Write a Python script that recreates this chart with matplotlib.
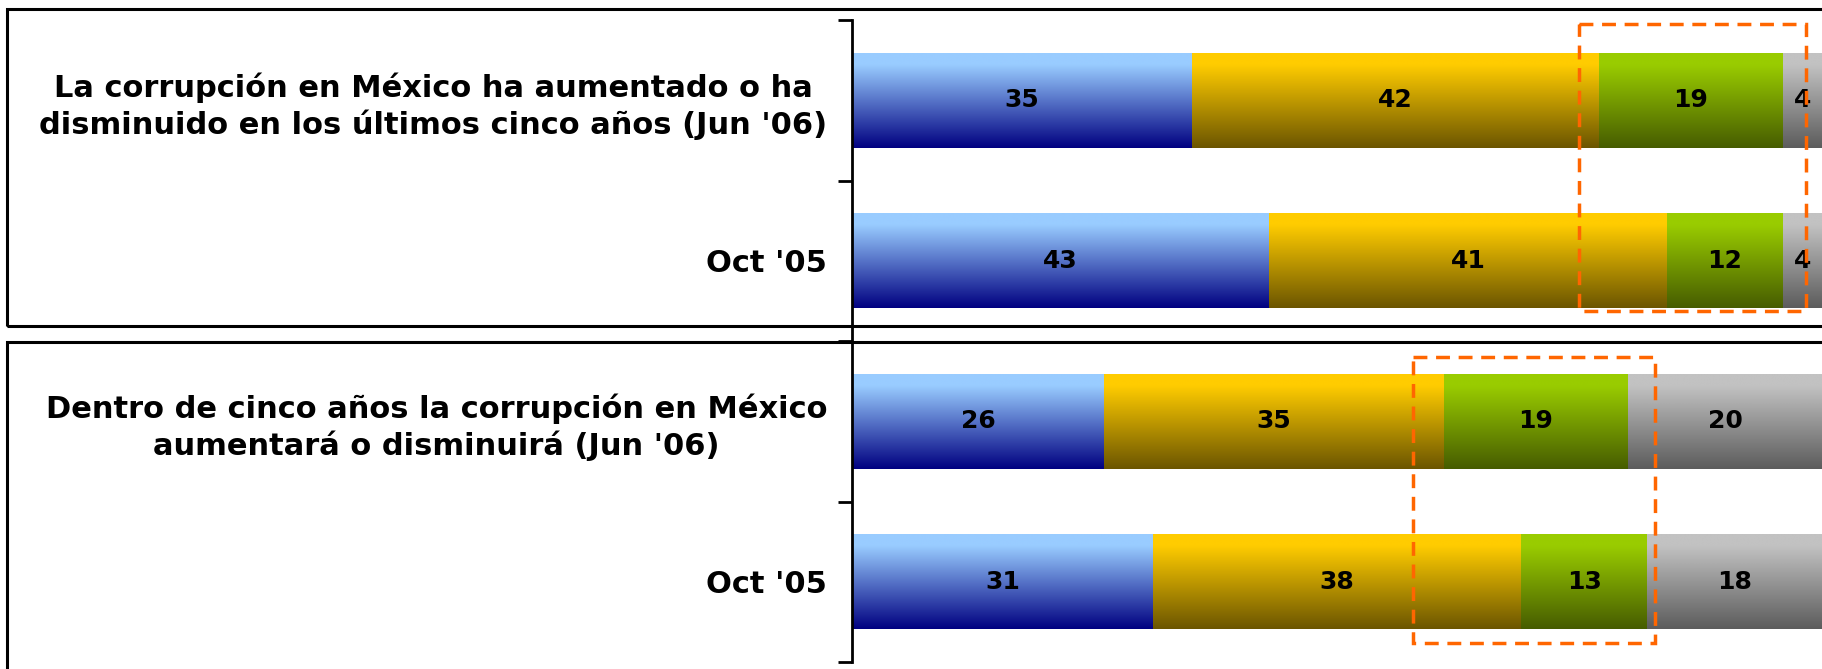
import numpy as np
import matplotlib
matplotlib.use("Agg")
import matplotlib.pyplot as plt
from matplotlib.colors import LinearSegmentedColormap
from matplotlib.patches import Rectangle

# ---- data ----
categories = [
    "La corrupción en México ha aumentado o ha\ndisminuido en los últimos cinco años (Jun '06)",
    "Oct '05",
    "Dentro de cinco años la corrupción en México\naumentará o disminuirá (Jun '06)",
    "Oct '05",
]
serie_azul = [35, 43, 26, 31]
serie_amarilla = [42, 41, 35, 38]
serie_verde = [19, 12, 19, 13]
serie_gris = [4, 4, 20, 18]
series = [serie_azul, serie_amarilla, serie_verde, serie_gris]

# gradient (top colour, bottom colour) for each series
gradients = [
    ("#99CCFF", "#000080"),
    ("#FFCC00", "#6B5500"),
    ("#99CC00", "#465C00"),
    ("#C2C2C2", "#5C5C5C"),
]

W, H = 1822, 669
fig = plt.figure(figsize=(W / 100, H / 100), dpi=100)
fig.patch.set_facecolor("white")

# panel frames (figure pixel coordinates)
def frame(x0, y0, x1, y1):
    fig.patches.append(Rectangle((x0 / W, 1 - y1 / H), (x1 - x0) / W, (y1 - y0) / H,
                                 transform=fig.transFigure, fill=False,
                                 edgecolor="black", linewidth=2.2, zorder=0))
frame(7, 9, 1840, 326)
frame(7, 342, 1840, 700)

ax_left, ax_right, ax_top, ax_bottom = 852, 1822, 20, 662
ax = fig.add_axes([ax_left / W, 1 - ax_bottom / H, (ax_right - ax_left) / W, (ax_bottom - ax_top) / H])
ax.set_facecolor("none")

y = np.arange(len(categories))
left = np.zeros(len(categories))
bar_h = 0.59
for vals, (ctop, cbot) in zip(series, gradients):
    vals = np.array(vals, dtype=float)
    bars = ax.barh(y, vals, left=left, height=bar_h, color=cbot, edgecolor="none", zorder=2)
    cmap = LinearSegmentedColormap.from_list("g", [(0, ctop), (0.12, ctop), (1, cbot)])
    grad = np.linspace(0, 1, 256).reshape(-1, 1)
    for p, v, l in zip(bars.patches, vals, left):
        x0, y0 = p.get_x(), p.get_y()
        im = ax.imshow(grad, cmap=cmap, aspect="auto", interpolation="bilinear",
                       extent=(x0, x0 + p.get_width(), y0 + p.get_height(), y0), zorder=3)
        im.set_clip_path(p)
        ax.text(l + v / 2, y0 + p.get_height() / 2, f"{int(v)}", ha="center", va="center",
                fontsize=18, fontweight="bold", family="DejaVu Sans", color="black", zorder=5)
    left = left + vals

ax.set_xlim(0, 100)
ax.set_ylim(len(categories) - 0.5, -0.5)

for s in ["top", "right", "bottom"]:
    ax.spines[s].set_visible(False)
ax.spines["left"].set_linewidth(2)
ax.spines["left"].set_zorder(6)
ax.set_xticks([])
ax.set_yticks(y)
ax.set_yticklabels(categories, fontsize=22, fontweight="bold", family="DejaVu Sans",
                   multialignment="center", linespacing=1.25)
ax.tick_params(axis="y", which="major", length=0, pad=18)
ax.set_yticks(np.arange(len(categories) + 1) - 0.5, minor=True)
ax.tick_params(axis="y", which="minor", length=10, width=2, direction="out")

# dashed highlight boxes (data coordinates)
for (x0, x1, y0, y1) in [(74.9, 98.4, -0.475, 1.313), (57.8, 82.8, 1.598, 3.382)]:
    ax.add_patch(Rectangle((x0, y0), x1 - x0, y1 - y0, fill=False, edgecolor="#FF6600",
                           linewidth=2.5, linestyle=(0, (4, 2.5)), zorder=7, clip_on=False))

fig.savefig("out.png", dpi=100)
